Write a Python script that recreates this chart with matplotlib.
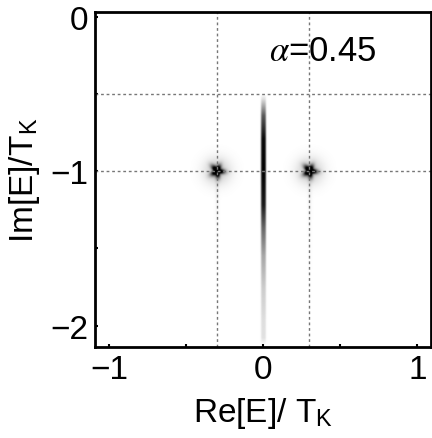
import matplotlib
matplotlib.use("Agg")
import matplotlib.pyplot as plt
import numpy as np

OUTPUT_PATH = "out.png"

ALPHA_LABEL = r"$\alpha$=0.45"

X_LIMITS = (-1.09, 1.09)
Y_LIMITS = (-2.14, 0.03)

X_TICKS = [-1, -0.5, 0, 0.5, 1]
X_TICK_LABELS = ["\u22121", "", "0", "", "1"]
Y_TICKS = [0, -0.5, -1, -1.5, -2]
Y_TICK_LABELS = ["0", "", "\u22121", "", "\u22122"]

GRID_X = [-0.3, 0.3]
GRID_Y = [-0.5, -1.0]

# vertical streak at Re=0: darkness read along Im
LINE_Y = [-2.13, -2.08, -1.97, -1.76, -1.55, -1.37, -1.22, -1.0, -0.79, -0.64, -0.53, -0.5]
LINE_DARK = [0.0, 0.12, 0.13, 0.2, 0.35, 0.6, 0.9, 1.0, 0.97, 0.65, 0.12, 0.0]
LINE_HALF_WIDTH = 0.014

# poles at +-0.3 - 1.0i
SPOT_RE = [-0.3, 0.3]
SPOT_IM = [-1.0, -1.0]
SPOT_CORE = 0.034
SPOT_HALO = 0.085


def density():
    xs = np.linspace(*X_LIMITS, 700)
    ys = np.linspace(*Y_LIMITS, 700)
    X, Y = np.meshgrid(xs, ys)

    prof = np.interp(Y, LINE_Y, LINE_DARK)
    z = prof * np.exp(-(X / LINE_HALF_WIDTH) ** 4 / 2)

    for x0, y0 in zip(SPOT_RE, SPOT_IM):
        dx, dy = X - x0, Y - y0
        r = np.hypot(dx, dy)
        th = np.arctan2(dy, dx)
        star = 1 + 0.18 * np.cos(5 * th + 0.6) + 0.08 * np.cos(3 * th)
        core = np.exp(-(r / (SPOT_CORE * star)) ** 2)
        halo = 0.22 * np.exp(-(r / SPOT_HALO) ** 2)
        below = np.clip((y0 - Y) / 0.05, 0, 1)
        tail = 0.08 * np.exp(-(dx / 0.014) ** 2) * below * np.exp(-(y0 - Y) / 0.3)
        z = np.maximum(z, np.clip(1.5 * core, 0, 1) + halo + tail)
    return np.clip(z, 0, 1)


def main():
    plt.rcParams["font.family"] = ["Liberation Sans", "DejaVu Sans"]
    plt.rcParams["mathtext.fontset"] = "stix"
    fig = plt.figure(figsize=(4.32, 4.39), dpi=100)
    ax = fig.add_axes([0.220, 0.207, 0.778, 0.763])

    ax.imshow(
        density(),
        extent=[*X_LIMITS, *Y_LIMITS],
        origin="lower",
        cmap="gray_r",
        vmin=0,
        vmax=1,
        aspect="auto",
        interpolation="bilinear",
        zorder=1,
    )

    for gx in GRID_X:
        ax.axvline(gx, color="#777777", linestyle=(0, (2, 2)), linewidth=1, zorder=2)
    for gy in GRID_Y:
        ax.axhline(gy, color="#777777", linestyle=(0, (2, 2)), linewidth=1, zorder=2)

    ax.set_xlim(*X_LIMITS)
    ax.set_ylim(*Y_LIMITS)
    ax.set_xticks(X_TICKS)
    ax.set_xticklabels(X_TICK_LABELS)
    ax.set_yticks(Y_TICKS)
    ax.set_yticklabels(Y_TICK_LABELS)
    ax.tick_params(direction="in", length=2.5, width=1.5, labelsize=24, pad=5)

    for spine in ax.spines.values():
        spine.set_linewidth(2)

    ax.set_xlabel(r"Re[E]/ T$_\mathregular{K}$", fontsize=24, labelpad=7)
    ax.set_ylabel(r"Im[E]/T$_\mathregular{K}$", fontsize=24, labelpad=6)

    ax.text(0.04, -0.22, ALPHA_LABEL, fontsize=25, ha="left", va="center", zorder=3)

    fig.savefig(OUTPUT_PATH, dpi=100)
    plt.close(fig)


if __name__ == "__main__":
    main()
